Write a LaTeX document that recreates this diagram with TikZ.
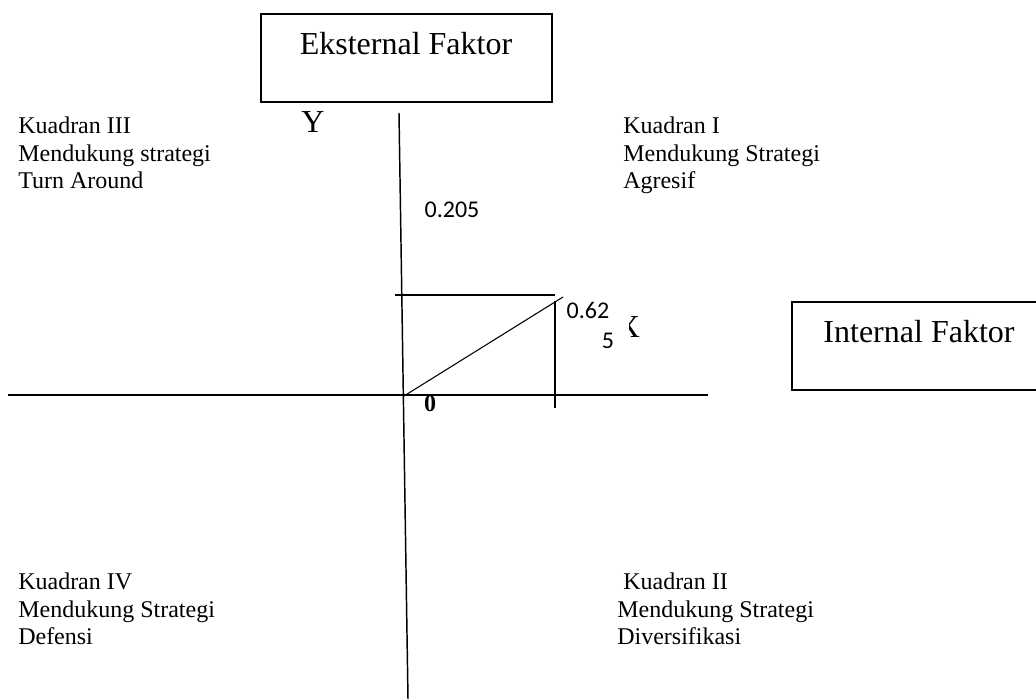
\documentclass[tikz,border=0pt]{standalone}
\usepackage{fontspec}
\setmainfont{Liberation Serif}
\newfontfamily\calibri{Carlito}
\usetikzlibrary{positioning}

\begin{document}
\begin{tikzpicture}[
    x=0.75pt, y=-0.75pt,
    faktor/.style={draw, line width=1.1pt, inner sep=0pt},
    judul/.style={font=\fontsize{24}{28}\selectfont, inner sep=0pt},
    kuadran/.style={font=\fontsize{18}{20.6}\selectfont, align=left,
                    anchor=north west, inner sep=0pt},
    nilai/.style={font=\calibri\fontsize{18}{22}\selectfont, inner sep=0pt},
    sumbu/.style={line width=1.1pt},
  ]
    \useasboundingbox (0,0) rectangle (1036,699);

    % kotak faktor
    \node[faktor, minimum width=218.25pt, minimum height=66pt] (eksbox) at (406.5,58) {};
    \node[judul] (ekstxt) at (406,44) {Eksternal Faktor};
    \node[faktor, minimum width=189.75pt, minimum height=66pt] (intbox) at (918.5,346) {};
    \node[judul] (inttxt) at (919,332) {Internal Faktor};

    % sumbu
    \coordinate (ytop) at (399,113);
    \coordinate (ybot) at (408,699);
    \coordinate (xkiri) at (8,395);
    \coordinate (xkanan) at (708,395);
    \draw[sumbu] (ytop) -- (ybot);
    \draw[sumbu] (xkiri) -- (xkanan);
    \node[judul] (ylbl) at (313,122) {Y};
    \begin{scope}
      \clip (629,300) rectangle (660,345);
      \node[judul] (xlbl) at (628.5,327) {X};
    \end{scope}

    % titik posisi
    \coordinate (o) at (404,396);
    \coordinate (p) at (563,297);
    \coordinate (garisa) at (395,295);
    \coordinate (garisb) at (555,295);
    \coordinate (tegaka) at (555,301);
    \coordinate (tegakb) at (555,408);
    \draw[sumbu] (garisa) -- (garisb);
    \draw[sumbu] (tegaka) -- (tegakb);
    \draw[line width=0.8pt] (o) -- (p);
    \node[font=\bfseries\fontsize{18}{20}\selectfont, inner sep=0pt] (nol) at (430,404) {0};
    \node[nilai] (ny) at (452,210) {0.205};
    \node[nilai] (nxa) at (588,310) {0.62};
    \node[nilai] (nxb) at (608,341) {5};

    % kuadran
    \node[kuadran] (k3) at (18,117) {Kuadran III\\Mendukung strategi\\Turn Around};
    \node[kuadran] (k1) at (623,117) {Kuadran I\\Mendukung Strategi\\Agresif};
    \node[kuadran] (k4) at (18,573) {Kuadran IV\\Mendukung Strategi\\Defensi};
    \node[kuadran] (k2) at (617,573) {\hspace*{4.5pt}Kuadran II\\Mendukung Strategi\\Diversifikasi};
  \end{tikzpicture}
\end{document}
